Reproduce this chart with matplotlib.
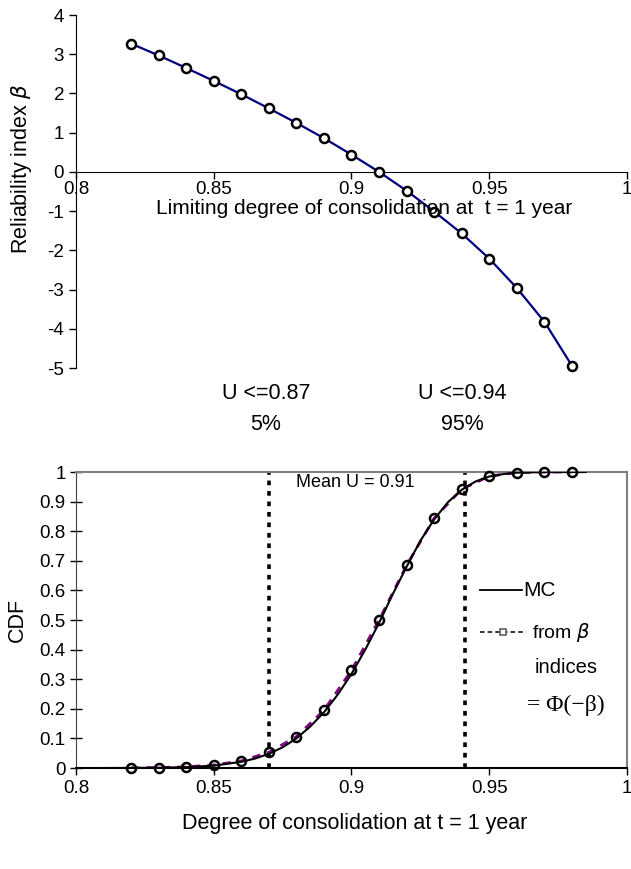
import matplotlib
matplotlib.use("Agg")
import matplotlib.pyplot as plt
import numpy as np

plt.rcParams['font.family'] = ['Liberation Sans', 'DejaVu Sans']
plt.rcParams['axes.unicode_minus'] = False
plt.rcParams['mathtext.fontset'] = 'dejavusans'

# limiting degree of consolidation and reliability index
u = [0.82, 0.83, 0.84, 0.85, 0.86, 0.87, 0.88, 0.89, 0.90,
     0.91, 0.92, 0.93, 0.94, 0.95, 0.96, 0.97, 0.98]
beta = [3.27, 2.97, 2.65, 2.32, 1.98, 1.62, 1.25, 0.86, 0.44,
        0.0, -0.48, -1.01, -1.57, -2.21, -2.96, -3.82, -4.94]

# CDF from beta indices = Phi(-beta)
cdf_beta = [0.0005, 0.0015, 0.004, 0.010, 0.024, 0.053, 0.106, 0.195, 0.330,
            0.500, 0.685, 0.844, 0.942, 0.986, 0.998, 1.0, 1.0]

# Monte Carlo CDF
mc_u = [0.81, 0.82, 0.83, 0.84, 0.85, 0.86, 0.865, 0.87, 0.875, 0.88, 0.885,
        0.89, 0.895, 0.90, 0.905, 0.91, 0.915, 0.92, 0.925, 0.93, 0.935,
        0.94, 0.945, 0.95, 0.955, 0.96, 0.97, 0.98, 0.985]
mc_cdf = [0.0, 0.0003, 0.001, 0.003, 0.008, 0.021, 0.032, 0.048, 0.070, 0.100,
          0.140, 0.188, 0.248, 0.318, 0.400, 0.490, 0.588, 0.680, 0.768, 0.840,
          0.898, 0.940, 0.968, 0.985, 0.993, 0.998, 1.0, 1.0, 1.0]

xticks = [0.8, 0.85, 0.9, 0.95, 1.0]
xticklabels = ["0.8", "0.85", "0.9", "0.95", "1"]

TICK = 13.5
LAB = 15.5

fig = plt.figure(figsize=(6.31, 8.69), dpi=100)

# ---------- top: reliability index ----------
ax1 = fig.add_axes([0.1204, 0.5765, 0.8733, 0.4062])
ax1.plot(u, beta, color='#000080', lw=1.6, marker='o', ms=6.5,
         mfc='white', mec='black', mew=1.8, zorder=3, clip_on=False)
ax1.set_xlim(0.8, 1.0)
ax1.set_ylim(-5, 4)
ax1.spines['top'].set_visible(False)
ax1.spines['right'].set_visible(False)
ax1.spines['bottom'].set_position(('data', 0))
ax1.set_xticks(xticks)
ax1.set_xticklabels(xticklabels)
ax1.set_yticks(range(-5, 5))
ax1.tick_params(labelsize=TICK, length=5, width=1)
ax1.tick_params(axis='x', pad=1.5)
ax1.text(0.9045, -0.94, "Limiting degree of consolidation at  t = 1 year",
         ha='center', va='center', fontsize=15)
fig.text(22 / 631, 1 - 169 / 869, r"Reliability index $\beta$",
         rotation=90, ha='center', va='center', fontsize=LAB)
ax1.patch.set_alpha(0)

# ---------- bottom: CDF ----------
ax2 = fig.add_axes([0.1204, 0.1162, 0.8733, 0.3406])
ax2.plot(u, cdf_beta, color='#800080', lw=2.0, ls=(0, (3, 2.5)), zorder=3)
ax2.plot(mc_u, mc_cdf, color='black', lw=1.5, zorder=4)
ax2.plot(u, cdf_beta, ls='none', marker='o', ms=6.5, mfc='none',
         mec='black', mew=1.8, zorder=5, clip_on=False)
ax2.set_xlim(0.8, 1.0)
ax2.set_ylim(0, 1)
ax2.set_xticks(xticks)
ax2.set_xticklabels(xticklabels)
ax2.set_yticks(np.round(np.arange(0, 1.01, 0.1), 1))
ax2.set_yticklabels(["0", "0.1", "0.2", "0.3", "0.4", "0.5", "0.6",
                     "0.7", "0.8", "0.9", "1"])
ax2.tick_params(labelsize=TICK, length=5, width=1)
ax2.tick_params(axis='y', direction='inout', length=8)
for s in ['top', 'right']:
    ax2.spines[s].set_color('#808080')
    ax2.spines[s].set_linewidth(1.5)
ax2.spines['left'].set_color('#404040')
ax2.spines['bottom'].set_linewidth(1.5)
fig.text(355 / 631, 1 - 823 / 869, "Degree of consolidation at t = 1 year",
         ha='center', va='center', fontsize=LAB)
fig.text(17 / 631, 1 - 620 / 869, "CDF", rotation=90,
         ha='center', va='center', fontsize=LAB)

# 5% and 95% markers
for xv, top, bot in [(0.87, "U <=0.87", "5%"), (0.9412, "U <=0.94", "95%")]:
    ax2.plot([xv, xv], [0, 1.0], color='black', lw=2.6, ls=(0, (1.3, 1.6)),
             zorder=2, clip_on=False)
    ax2.text(xv - 0.001, 1.264, top, ha='center', va='center', fontsize=LAB)
    ax2.text(xv - 0.001, 1.159, bot, ha='center', va='center', fontsize=LAB)

ax2.text(0.880, 0.963, "Mean U = 0.91", ha='left', va='center', fontsize=13)

# hand-drawn legend
ax2.plot([0.9466, 0.9619], [0.601, 0.601], color='black', lw=1.3)
ax2.text(0.9622, 0.601, "MC", ha='left', va='center', fontsize=15)
ax2.plot([0.9466, 0.9633], [0.459, 0.459], color='black', lw=1.1,
         ls=(0, (3, 2)))
ax2.plot([0.955], [0.459], ls='none', marker='s', ms=4.5, mfc='white',
         mec='#606060', mew=1.2)
ax2.text(0.9655, 0.459, r"from $\beta$", ha='left', va='center', fontsize=14)
ax2.text(0.9666, 0.338, "indices", ha='left', va='center', fontsize=14.6)
ax2.text(0.9637, 0.213, "= \u03a6(\u2212\u03b2)", ha='left', va='center',
         fontsize=17, family=['Liberation Serif', 'DejaVu Serif'])

fig.savefig("out.png", dpi=100)
